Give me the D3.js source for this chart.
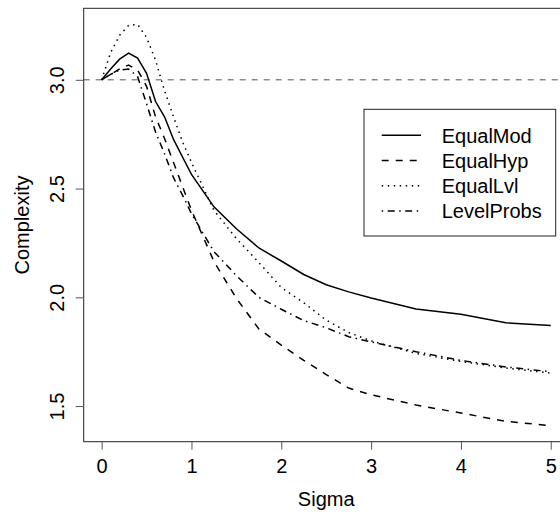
<!DOCTYPE html>
<html>
<head>
<meta charset="utf-8">
<script src="https://cdn.jsdelivr.net/npm/d3@7"></script>
<style>
  body { margin: 0; background: #fff; }
  text { font-family: "Liberation Sans", Arial, sans-serif; fill: #000; }
</style>
</head>
<body>
<div id="playground"></div>
<script>
// values
var sigma = [0, 0.1, 0.2, 0.3, 0.4, 0.5, 0.6, 0.7, 0.8, 0.9, 1,
             1.25, 1.5, 1.75, 2, 2.25, 2.5, 2.75, 3, 3.5, 4, 4.5, 5];
var equalMod = [3.0, 3.05, 3.095, 3.123, 3.10, 3.03, 2.90, 2.83, 2.726, 2.645, 2.565,
                2.416, 2.315, 2.227, 2.167, 2.105, 2.058, 2.025, 1.997, 1.946, 1.922, 1.883, 1.870];
var equalHyp = [3.0, 3.025, 3.05, 3.068, 3.045, 2.97, 2.83, 2.73, 2.62, 2.51, 2.40,
                2.165, 1.995, 1.855, 1.78, 1.71, 1.645, 1.583, 1.552, 1.505, 1.468, 1.43, 1.41];
var equalLvl = [3.0, 3.125, 3.205, 3.25, 3.255, 3.195, 3.09, 2.95, 2.83, 2.715, 2.62,
                2.40, 2.27, 2.16, 2.045, 1.975, 1.895, 1.838, 1.80, 1.742, 1.705, 1.675, 1.652];
var levelProbs = [3.0, 3.025, 3.045, 3.05, 3.015, 2.89, 2.76, 2.66, 2.55, 2.47, 2.385,
                  2.21, 2.10, 2.00, 1.945, 1.893, 1.86, 1.819, 1.795, 1.75, 1.71, 1.68, 1.658];
var seriesNames = ['EqualMod', 'EqualHyp', 'EqualLvl', 'LevelProbs'];
var xTicks = [0, 1, 2, 3, 4, 5];
var yTicks = [1.5, 2.0, 2.5, 3.0];
var refLevel = 3.0;

var series = [equalMod, equalHyp, equalLvl, levelProbs];
var dashes = [null, '7,7', '1.5,4.5', '1.5,4.5,7,4.5'];

var svg = d3.select('#playground')
  .append('svg')
    .attr('width', 560)
    .attr('height', 515);

// plot region (right side runs past the window, as in the reference)
var pLeft = 83.7, pTop = 8.3, pRight = 568.7, pBottom = 441.7;

// R style 4% padding on both axes
function padded(ext) {
  var d = (ext[1] - ext[0]) * 0.04;
  return [ext[0] - d, ext[1] + d];
}
var allY = d3.merge(series);
var x = d3.scaleLinear().domain(padded(d3.extent(sigma))).range([pLeft, pRight]);
var y = d3.scaleLinear().domain(padded(d3.extent(allY))).range([pBottom, pTop]);

// reference line
svg.append('line')
  .attr('x1', pLeft).attr('x2', pRight)
  .attr('y1', y(refLevel)).attr('y2', y(refLevel))
  .attr('stroke', '#555')
  .attr('stroke-width', 1)
  .attr('stroke-dasharray', '6,6');

var line = d3.line()
  .x(function(d, i) { return x(sigma[i]); })
  .y(function(d) { return y(d); });

svg.selectAll('path.series')
  .data(series)
  .enter()
    .append('path')
      .attr('class', 'series')
      .attr('d', line)
      .attr('fill', 'none')
      .attr('stroke', '#000')
      .attr('stroke-width', 1.5)
      .attr('stroke-dasharray', function(d, i) { return dashes[i]; });

// box
svg.append('rect')
  .attr('x', pLeft).attr('y', pTop)
  .attr('width', pRight - pLeft).attr('height', pBottom - pTop)
  .attr('fill', 'none')
  .attr('stroke', '#222')
  .attr('stroke-width', 1);

// x axis
var gx = svg.append('g')
  .attr('transform', 'translate(0,' + pBottom + ')')
  .call(d3.axisBottom(x).tickValues(xTicks).tickSize(8).tickFormat(d3.format('d')));
gx.select('.domain').remove();
gx.selectAll('line').attr('stroke', '#555');
gx.selectAll('text')
  .attr('y', 31).attr('dy', null)
  .style('font-size', '20px')
  .attr('font-family', null);

// y axis, labels turned like R's
var gy = svg.append('g')
  .attr('transform', 'translate(' + pLeft + ',0)')
  .call(d3.axisLeft(y).tickValues(yTicks).tickSize(8).tickFormat(d3.format('.1f')));
gy.select('.domain').remove();
gy.selectAll('line').attr('stroke', '#555');
gy.selectAll('text')
  .attr('x', null).attr('dy', null)
  .attr('text-anchor', 'middle')
  .attr('transform', 'translate(-20,0) rotate(-90)')
  .style('font-size', '20px')
  .attr('font-family', null);

svg.append('text')
  .attr('x', (pLeft + pRight) / 2)
  .attr('y', 506)
  .attr('text-anchor', 'middle')
  .style('font-size', '20px')
  .text('Sigma');

svg.append('text')
  .attr('transform', 'translate(29,' + ((pTop + pBottom) / 2) + ') rotate(-90)')
  .attr('text-anchor', 'middle')
  .style('font-size', '20px')
  .text('Complexity');

// legend
var lg = svg.append('g');
lg.append('rect')
  .attr('x', 364).attr('y', 109.3)
  .attr('width', 191.7).attr('height', 126.7)
  .attr('fill', '#fff')
  .attr('stroke', '#222');

var rows = lg.selectAll('g.row')
  .data(seriesNames)
  .enter()
    .append('g')
      .attr('class', 'row')
      .attr('transform', function(d, i) { return 'translate(0,' + (135.3 + i * 25.2) + ')'; });
rows.append('line')
  .attr('x1', 381.7).attr('x2', 421)
  .attr('stroke', '#000')
  .attr('stroke-width', 1.5)
  .attr('stroke-dasharray', function(d, i) { return dashes[i]; });
rows.append('text')
  .attr('x', 441.7)
  .attr('y', 7.3)
  .style('font-size', '20px')
  .text(function(d) { return d; });
</script>
</body>
</html>
